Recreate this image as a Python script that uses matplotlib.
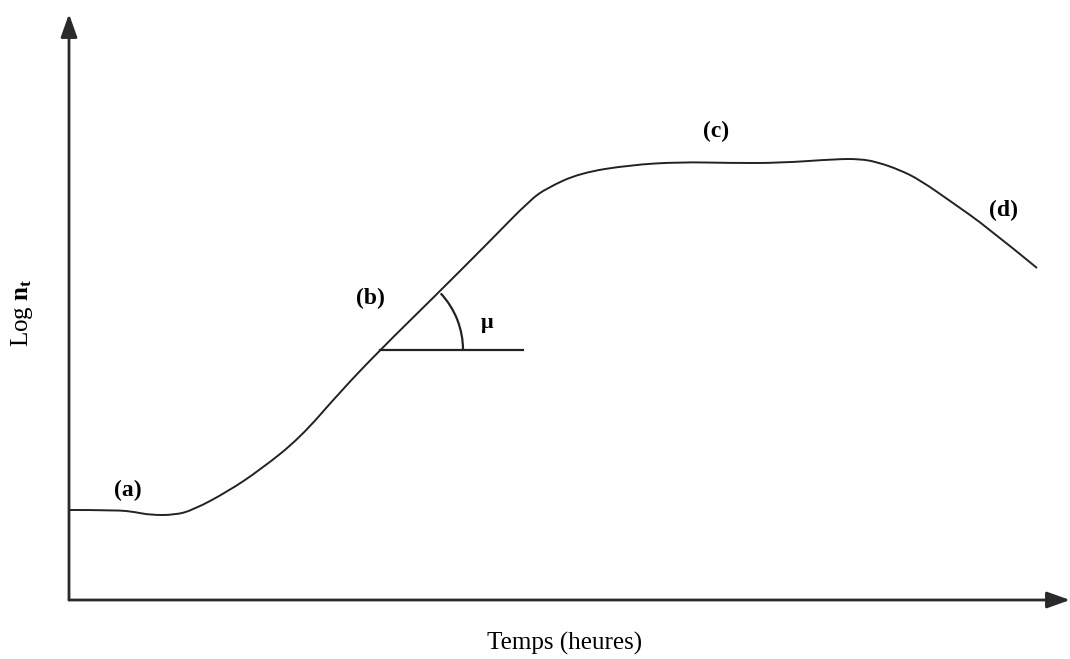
"""
Courbe de croissance bactérienne : Log n_t en fonction du temps,
avec les phases (a) latence, (b) exponentielle, (c) stationnaire, (d) déclin.
"""
import numpy as np
import matplotlib.pyplot as plt
from matplotlib.patches import Arc, PathPatch
from matplotlib.path import Path

plt.rcParams['font.family'] = ['Liberation Serif', 'DejaVu Serif']
plt.rcParams['mathtext.fontset'] = 'custom'
plt.rcParams['mathtext.rm'] = 'Liberation Serif'
plt.rcParams['mathtext.bf'] = 'Liberation Serif:bold'

# Courbe (unités arbitraires)
temps = [0, 4.8, 6.6, 8.1, 10.6, 12.4, 15.8, 19.1, 23.1, 27.1, 31.1, 36.4,
         42.1, 46.1, 47.8, 51.1, 56.1, 61.1, 66.1, 71.1, 76.8, 79.1, 80.8,
         83.1, 85.1, 88.4, 91.8, 96.8]
log_n = [9.0, 9.0, 8.8, 8.5, 8.5, 9.0, 10.8, 13.0, 16.2, 20.8, 25.0, 30.2,
         35.9, 40.0, 41.2, 42.7, 43.5, 43.8, 43.7, 43.7, 44.1, 44.1, 43.8,
         43.0, 42.0, 39.7, 37.3, 33.2]

# Phases annotées
phase_labels = ['(a)', '(b)', '(c)', '(d)']
phase_t = [5.9, 30.1, 64.7, 93.4]
phase_y = [11.0, 30.2, 46.9, 39.0]

# Taux de croissance mu : point de tangence, fin du trait, angle
mu_t, mu_y = 31.1, 25.0
mu_t_end = 45.4
mu_angle = 43


def smooth_path(xs, ys):
    """Chemin lissé (courbes quadratiques) passant par les milieux des points."""
    pts = np.column_stack([xs, ys])
    verts = [pts[0]]
    codes = [Path.MOVETO]
    for i in range(1, len(pts) - 1):
        mid = (pts[i] + pts[i + 1]) / 2 if i < len(pts) - 2 else pts[i + 1]
        verts += [pts[i], mid]
        codes += [Path.CURVE3, Path.CURVE3]
    return Path(verts, codes)


fig = plt.figure(figsize=(10.70, 6.59), dpi=100)
ax = fig.add_axes([69 / 1070, 59 / 659, 1001 / 1070, 586 / 659])
ax.set_xlim(0, 100.1)
ax.set_ylim(0, 58.6)
ax.axis('off')

# Axes fléchés
arrow = dict(arrowstyle='-|>,head_length=1.4,head_width=0.5', lw=2,
             color='#2a2a2a', shrinkA=0, shrinkB=0)
ax.annotate('', xy=(0, 1), xytext=(0, 0), xycoords='axes fraction',
            arrowprops=arrow, annotation_clip=False)
ax.annotate('', xy=(1, 0), xytext=(0, 0), xycoords='axes fraction',
            arrowprops=arrow, annotation_clip=False)

ax.add_patch(PathPatch(smooth_path(temps, log_n), facecolor='none',
                       edgecolor='#222222', lw=1.4))

# Tangente horizontale et arc de l'angle mu
ax.plot([mu_t, mu_t_end], [mu_y, mu_y], color='#222222', lw=1.6)
ax.add_patch(Arc((mu_t, mu_y), 16.6, 16.6, theta1=0, theta2=mu_angle,
                 color='#222222', lw=1.6))
ax.text(41.8, 27.7, 'μ', fontsize=16, fontweight='bold', ha='center', va='center')

for lab, t, y in zip(phase_labels, phase_t, phase_y):
    ax.text(t, y, lab, fontsize=17, fontweight='bold', ha='center', va='center')

fig.text(565 / 1070, 1 - 643 / 659, 'Temps (heures)', fontsize=18,
         ha='center', va='center')
fig.text(22 / 1070, 1 - 313 / 659, r'Log $\mathbf{n_t}$', fontsize=18,
         rotation=90, ha='center', va='center')

fig.savefig('out.png', dpi=100)
